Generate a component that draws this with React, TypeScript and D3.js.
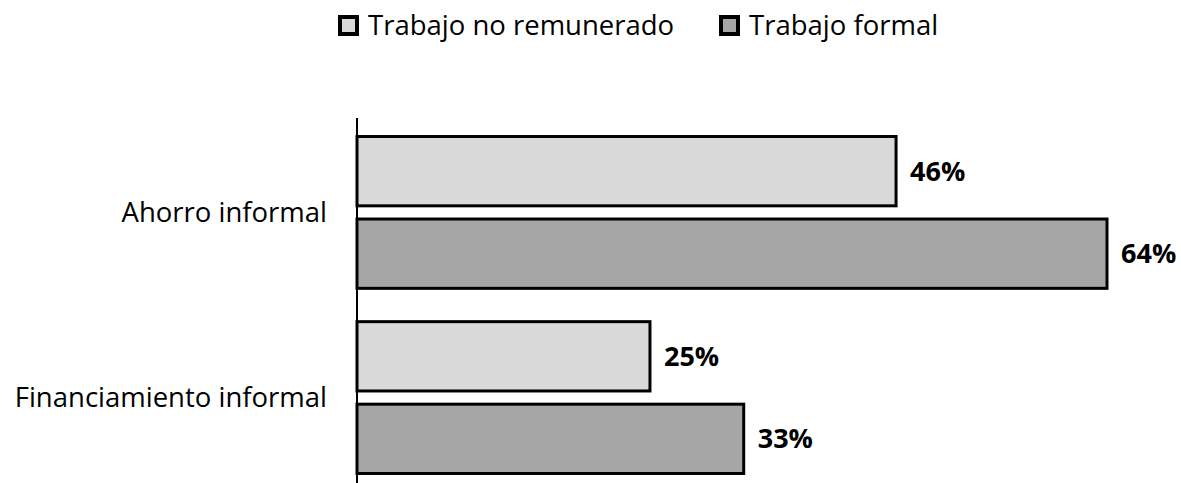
import { useEffect, useRef } from 'react';
import * as d3 from 'd3';

const categories = ['Ahorro informal', 'Financiamiento informal'];
const seriesNames = ['Trabajo no remunerado', 'Trabajo formal'];
const noRemunerado = [46, 25];
const formal = [64, 33];
const colors = ['#d9d9d9', '#a6a6a6'];

const FONT = '"Open Sans", "Noto Sans", sans-serif';

const App = () => {
    const ref = useRef(null);

    useEffect(() => {
        const svg = d3.select(ref.current);
        svg.selectAll('*').remove();

        const data = categories.map((c, i) => ({
            category: c,
            values: [noRemunerado[i], formal[i]],
        }));

        const x = d3.scaleLinear().domain([0, 64]).range([357, 1107]);

        const y0 = d3.scaleBand()
            .domain(categories)
            .range([118, 492])
            .paddingInner(0.18)
            .paddingOuter(0.1);

        const y1 = d3.scaleBand()
            .domain(seriesNames)
            .range([0, y0.bandwidth()])
            .paddingInner(0.16);

        // legend
        const legend = svg.append('g').attr('font-family', FONT).attr('font-size', 27.5);
        const legendX = [338, 719];
        seriesNames.forEach((s, i) => {
            legend.append('rect')
                .attr('x', legendX[i] + 2)
                .attr('y', 17)
                .attr('width', 17)
                .attr('height', 17)
                .attr('fill', colors[i])
                .attr('stroke', '#000')
                .attr('stroke-width', 4);
            legend.append('text')
                .attr('x', legendX[i] + 30)
                .attr('y', 35)
                .attr('fill', '#000')
                .text(s);
        });

        const groups = svg.append('g')
            .selectAll('g').data(data).enter().append('g')
            .attr('transform', d => `translate(0,${y0(d.category)})`);

        groups.selectAll('rect')
            .data(d => d.values.map((v, i) => ({ key: seriesNames[i], value: v, i })))
            .enter().append('rect')
            .attr('x', x(0))
            .attr('y', d => y1(d.key))
            .attr('width', d => x(d.value) - x(0))
            .attr('height', y1.bandwidth())
            .attr('fill', d => colors[d.i])
            .attr('stroke', '#000')
            .attr('stroke-width', 3);

        groups.selectAll('text.val')
            .data(d => d.values.map((v, i) => ({ key: seriesNames[i], value: v })))
            .enter().append('text')
            .attr('class', 'val')
            .attr('x', d => x(d.value) + 14)
            .attr('y', d => y1(d.key) + y1.bandwidth() / 2)
            .attr('dy', '0.35em')
            .attr('font-family', FONT)
            .attr('font-weight', 'bold')
            .attr('font-size', 27)
            .text(d => `${d.value}%`);

        // category labels
        svg.append('g')
            .selectAll('text').data(categories).enter().append('text')
            .attr('x', 327)
            .attr('y', d => y0(d) + y0.bandwidth() / 2)
            .attr('dy', '0.35em')
            .attr('text-anchor', 'end')
            .attr('font-family', FONT)
            .attr('font-size', 27.5)
            .text(d => d);

        // axis line
        svg.append('line')
            .attr('x1', x(0)).attr('x2', x(0))
            .attr('y1', 118).attr('y2', 492)
            .attr('stroke', '#000')
            .attr('stroke-width', 2);
    }, []);

    return (
        <svg ref={ref} width={1181} height={483}
            style={{ position: 'absolute', left: 0, top: 0, background: '#fff' }} />
    );
};

export default App;
